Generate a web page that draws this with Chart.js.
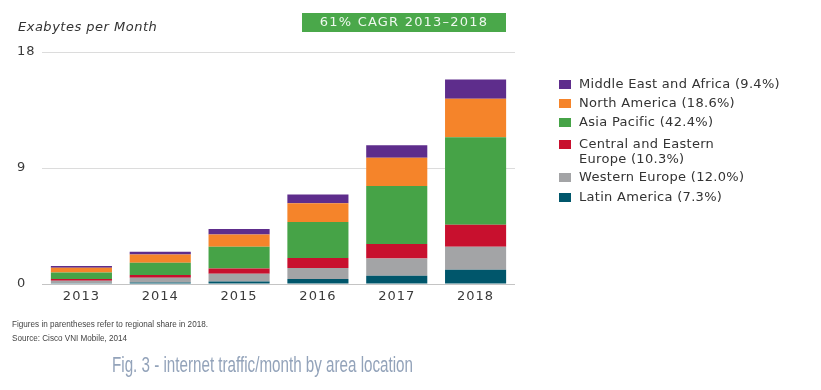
<!DOCTYPE html>
<html>
<head>
<meta charset="utf-8">
<script src="https://cdn.jsdelivr.net/npm/chart.js@4/dist/chart.umd.min.js"></script>
<style>
  html, body { margin: 0; padding: 0; background: #fff; }
  #chart { display: block; }
</style>
</head>
<body>
<canvas id="chart" width="821" height="390"></canvas>
<script>
// --- data (exabytes per month) ---
const years = ['2013', '2014', '2015', '2016', '2017', '2018'];
const latinAmerica = [0.05, 0.12, 0.20, 0.39, 0.64, 1.11];
const westernEurope = [0.21, 0.37, 0.60, 0.85, 1.34, 1.78];
const centralEastEurope = [0.13, 0.21, 0.41, 0.77, 1.12, 1.70];
const asiaPacific = [0.51, 0.95, 1.68, 2.81, 4.51, 6.79];
const northAmerica = [0.36, 0.64, 0.95, 1.45, 2.19, 2.99];
const middleEastAfrica = [0.13, 0.21, 0.42, 0.67, 0.96, 1.50];
const yTicks = [0, 9, 18];

const legendLabels = [
    ['Latin America (7.3%)'],
    ['Western Europe (12.0%)'],
    ['Central and Eastern', 'Europe (10.3%)'],
    ['Asia Pacific (42.4%)'],
    ['North America (18.6%)'],
    ['Middle East and Africa (9.4%)']
];
const colors = ['#00566b', '#a3a4a6', '#c8102e', '#46a347', '#f5842a', '#5e2d8c'];
const seriesValues = [latinAmerica, westernEurope, centralEastEurope, asiaPacific, northAmerica, middleEastAfrica];

const axisTitle = 'Exabytes per Month';
const badgeText = '61% CAGR 2013\u20132018';
const footnotes = ['Figures in parentheses refer to regional share in 2018.', 'Source: Cisco VNI Mobile, 2014'];
const caption = 'Fig. 3 - internet traffic/month by area location';

const baseFont = '"DejaVu Sans", sans-serif';

// --- extra text, badge and legend drawn on the same canvas ---
const extras = {
    id: 'extras',
    beforeDraw(chart) {
        const ctx = chart.ctx;
        ctx.save();
        ctx.fillStyle = '#fff';
        ctx.fillRect(0, 0, chart.width, chart.height);
        ctx.restore();
        ctx.letterSpacing = '1px';
    },
    afterDraw(chart) {
        const ctx = chart.ctx;
        ctx.save();
        ctx.textBaseline = 'middle';

        // axis title
        ctx.letterSpacing = '0.5px';
        ctx.fillStyle = '#333';
        ctx.font = 'italic 13px ' + baseFont;
        ctx.textAlign = 'left';
        ctx.fillText(axisTitle, 18, 28);

        // CAGR badge
        ctx.fillStyle = '#4aa84a';
        ctx.fillRect(302, 13, 204, 19);
        ctx.fillStyle = '#eef8ee';
        ctx.font = '13px ' + baseFont;
        ctx.letterSpacing = '1.2px';
        ctx.textAlign = 'center';
        ctx.fillText(badgeText, 404, 23);

        // legend, top item is the last series
        ctx.letterSpacing = '0.3px';
        ctx.textAlign = 'left';
        ctx.font = '13px ' + baseFont;
        const rowY = [198, 178, 145, 123, 104, 85];
        chart.data.datasets.forEach((ds, i) => {
            const y = rowY[i];
            ctx.fillStyle = ds.backgroundColor;
            ctx.fillRect(559, y - 5, 12, 9);
            ctx.fillStyle = '#333';
            ds.legendLines.forEach((line, j) => {
                ctx.fillText(line, 579, y + j * 14.5);
            });
        });

        // footnotes
        ctx.letterSpacing = '0px';
        ctx.fillStyle = '#444';
        ctx.font = '9px "Liberation Sans", Arial, sans-serif';
        ctx.fillText(footnotes[0], 12, 325, 196);
        ctx.fillText(footnotes[1], 12, 339, 115);

        // caption
        ctx.fillStyle = '#93a3ba';
        ctx.font = '22px "Liberation Sans Narrow", "Liberation Sans", sans-serif';
        ctx.fillText(caption, 112, 366, 301);

        ctx.restore();
    }
};

const chart = new Chart(document.getElementById('chart'), {
    type: 'bar',
    data: {
        labels: years,
        datasets: seriesValues.map((values, i) => ({
            label: legendLabels[i].join(' '),
            legendLines: legendLabels[i],
            data: values,
            backgroundColor: colors[i],
            borderWidth: 0,
            barPercentage: 0.775,
            categoryPercentage: 1
        }))
    },
    options: {
        responsive: false,
        animation: false,
        layout: { padding: { left: 17, top: 52, right: 306, bottom: 84 } },
        plugins: {
            legend: { display: false },
            tooltip: { enabled: false }
        },
        scales: {
            x: {
                stacked: true,
                grid: { display: false, drawTicks: false },
                border: { display: false },
                ticks: { color: '#3a3a3a', padding: 5, font: { family: baseFont, size: 13 } },
                afterFit: s => { s.height = 22; }
            },
            y: {
                stacked: true,
                min: yTicks[0],
                max: yTicks[yTicks.length - 1],
                afterBuildTicks: s => { s.ticks = yTicks.map(v => ({ value: v })); },
                grid: {
                    drawTicks: false,
                    color: ctx => ctx.tick && ctx.tick.value === 0 ? '#c4c4c4' : '#dcdcdc'
                },
                border: { display: false },
                ticks: { color: '#3a3a3a', crossAlign: 'far', font: { family: baseFont, size: 13 } },
                afterFit: s => { s.width = 25; }
            }
        }
    },
    plugins: [extras]
});
</script>
</body>
</html>
